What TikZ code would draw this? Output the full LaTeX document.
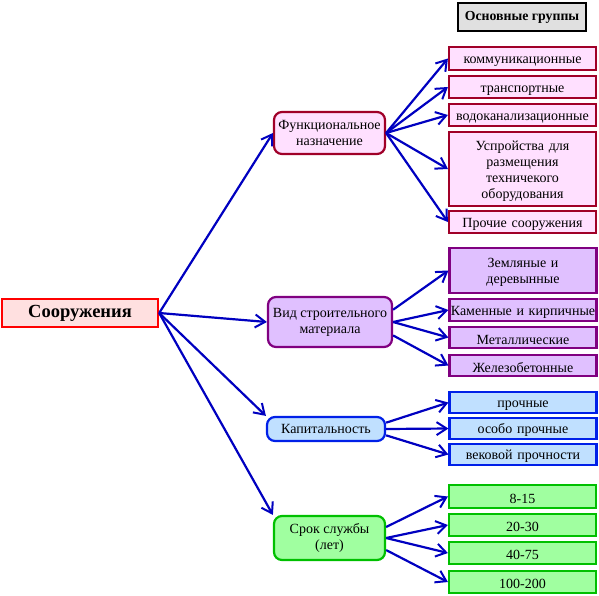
\documentclass[tikz,border=0pt]{standalone}
\usepackage{fontspec}
\setmainfont{Liberation Serif}
\usetikzlibrary{arrows.meta,calc}
\definecolor{objfill}{HTML}{FFE0E0}
\definecolor{headfill}{HTML}{E0E0E0}
\definecolor{funfill}{HTML}{FFE0FF}
\definecolor{fundraw}{HTML}{A00028}
\definecolor{matfill}{HTML}{E0C0FF}
\definecolor{matdraw}{HTML}{800080}
\definecolor{kapfill}{HTML}{C0E0FF}
\definecolor{kapdraw}{HTML}{0020E8}
\definecolor{srokfill}{HTML}{A0FFA0}
\definecolor{srokdraw}{HTML}{00C000}
\definecolor{strblue}{HTML}{0000C0}
\newcommand{\txt}{\fontsize{14}{16}\selectfont}
\tikzstyle{obj}=[draw=red, fill=objfill, line width=2.4pt, inner sep=0pt,
  minimum width=156pt, minimum height=28pt,
  font=\fontsize{18.5}{20}\selectfont\bfseries]
\tikzstyle{head}=[draw=black, fill=headfill, line width=2.4pt, inner sep=0pt,
  minimum width=128pt, minimum height=28pt,
  font=\fontsize{13.8}{15}\selectfont\bfseries]
\tikzstyle{gruppa}=[rounded corners=8pt, line width=2.2pt, inner sep=0pt,
  align=center, font=\txt]
\tikzstyle{vid}=[line width=2.2pt, inner sep=0pt, minimum width=147pt,
  text width=145pt, align=center, font=\txt,
  execute at begin node={\rule{0pt}{13.8pt}}]
\tikzstyle{vidfun}=[vid, draw=fundraw, fill=funfill]
\tikzstyle{vidmat}=[vid, draw=matdraw, fill=matfill]
\tikzstyle{vidkap}=[vid, draw=kapdraw, fill=kapfill]
\tikzstyle{vidsrok}=[vid, draw=srokdraw, fill=srokfill]
\tikzstyle{strelka}=[draw=strblue, line width=2.2pt,
  -{Straight Barb[length=10pt,width=13pt,line width=2pt]}]
\newcommand{\podgr}[4]{node (#1) [#2, minimum height=#3pt]
  {#4}}

\begin{document}
\begin{tikzpicture}[x=1pt, y=-1pt]
  \useasboundingbox (0,0) rectangle (599,595);
  % main object and header
  \node (obj) [obj] at (80,313) {Сооружения};
  \node (head) [head] at (522,17) {Основные группы};

  % groups
  \node (g1) [gruppa, draw=fundraw, fill=funfill, minimum width=111pt,
    minimum height=42pt] at (329.5,133) {Функциональное\\назначение};
  \node (g2) [gruppa, draw=matdraw, fill=matfill, minimum width=124pt,
    minimum height=50pt] at (330,322) {Вид строительного\\материала};
  \node (g3) [gruppa, draw=kapdraw, fill=kapfill, minimum width=118pt,
    minimum height=24pt] at (326,429) {Капитальность};
  \node (g4) [gruppa, draw=srokdraw, fill=srokfill, minimum width=111pt,
    minimum height=44pt] at (329.5,538) {Срок службы\\(лет)};

  % functional purpose
  \path (522.5,58.5) \podgr{f1}{vidfun}{23}{коммуникационные};
  \path (522.5,87) \podgr{f2}{vidfun}{22}{транспортные};
  \path (522.5,115) \podgr{f3}{vidfun}{22}{водоканализационные};
  \path (522.5,169) \podgr{f4}{vidfun}{74}{Успройства для\\размещения\\техничекого\\оборудования};
  \path (522.5,222) \podgr{f5}{vidfun}{22}{Прочие сооружения};

  % building material
  \path (523,270.5) \podgr{m1}{vidmat}{45}{Земляные и\\деревынные};
  \path (523,310) \podgr{m2}{vidmat}{22}{Каменные и кирпичные};
  \path (523,337.5) \podgr{m3}{vidmat}{21}{Металлические};
  \path (523,365.5) \podgr{m4}{vidmat}{21}{Железобетонные};

  % capital class
  \path (523,402.5) \podgr{k1}{vidkap}{21}{прочные};
  \path (523,428.5) \podgr{k2}{vidkap}{21}{особо прочные};
  \path (523,454.5) \podgr{k3}{vidkap}{21}{вековой прочности};

  % service life
  \path (522.5,496.5) \podgr{s1}{vidsrok}{23}{8-15};
  \path (522.5,525) \podgr{s2}{vidsrok}{22}{20-30};
  \path (522.5,553) \podgr{s3}{vidsrok}{22}{40-75};
  \path (522.5,582) \podgr{s4}{vidsrok}{22}{100-200};

  \draw [strelka] (obj.east) -- (g1.west);
  \draw [strelka] (obj.east) -- (g2.west);
  \draw [strelka] (obj.east) -- (g3.north west);
  \draw [strelka] (obj.east) -- (g4.north west);

  \foreach \v in {f1,f2,f3,f4,f5}
    \draw [strelka] (g1.east) -- (\v.west);
  \draw [strelka] (g2.11) -- (m1.west);
  \draw [strelka] (g2.east) -- (m2.west);
  \draw [strelka] (g2.east) -- (m3.west);
  \draw [strelka] (g2.-12) -- (m4.west);
  \draw [strelka] (g3.6) -- (k1.west);
  \draw [strelka] (g3.east) -- (k2.west);
  \draw [strelka] (g3.-6) -- (k3.west);
  \draw [strelka] (g4.11) -- (s1.west);
  \draw [strelka] (g4.east) -- (s2.west);
  \draw [strelka] (g4.east) -- (s3.west);
  \draw [strelka] (g4.-12) -- (s4.west);
\end{tikzpicture}
\end{document}
